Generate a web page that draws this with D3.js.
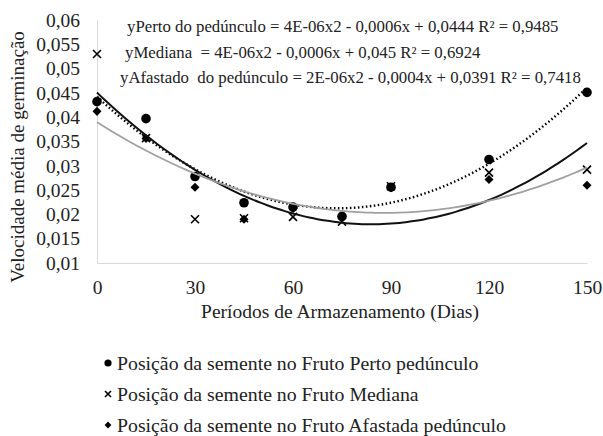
<!DOCTYPE html>
<html>
<head>
<meta charset="utf-8">
<script src="https://cdn.jsdelivr.net/npm/d3@7"></script>
</head>
<body style="margin:0">
<script>
// days of storage
const days = [0, 15, 30, 45, 60, 75, 90, 120, 150];
// germination speed per seed position
const perto    = [0.0432, 0.0397, 0.0278, 0.0224, 0.0215, 0.0196, 0.0256, 0.0313, 0.0451];
const mediana  = [0.0530, 0.0357, 0.0190, 0.0192, 0.0195, 0.0185, 0.0258, 0.0286, 0.0292];
const afastado = [0.0412, 0.0356, 0.0256, 0.0190, 0.0212, 0.0196, 0.0255, 0.0272, 0.0260];

const yTicks = [0.01, 0.015, 0.02, 0.025, 0.03, 0.035, 0.04, 0.045, 0.05, 0.055, 0.06];
const xTicks = [0, 30, 60, 90, 120, 150];

const equations = [
  "yPerto do pedúnculo = 4E-06x2 - 0,0006x + 0,0444 R² = 0,9485",
  "yMediana  = 4E-06x2 - 0,0006x + 0,045 R² = 0,6924",
  "yAfastado  do pedúnculo = 2E-06x2 - 0,0004x + 0,0391 R² = 0,7418"
];
const legendLabels = [
  "Posição da semente no Fruto Perto pedúnculo",
  "Posição da semente no Fruto Mediana",
  "Posição da semente no Fruto Afastada pedúnculo"
];

const FONT = "Liberation Serif";
const width = 603, height = 436;
const svg = d3.select("body").append("svg")
  .attr("width", width)
  .attr("height", height);

const xScale = d3.scaleLinear().domain([0, 150]).range([97, 587]);
const yScale = d3.scaleLinear().domain([0.01, 0.06]).range([263, 20]);

const fmt = d => d3.format(".3~f")(d).replace(".", ",");

// every text goes through here
function txt(sel, size) {
  return sel.style("font-family", `"${FONT}"`).attr("font-size", size).attr("fill", "#222");
}

// axes lines, light grey, no ticks
const xAxis = d3.axisBottom(xScale).tickValues(xTicks).tickSize(0).tickPadding(17);
const yAxis = d3.axisLeft(yScale).tickValues(yTicks).tickSize(0).tickPadding(17).tickFormat(fmt);

svg.append("g")
  .attr("transform", `translate(0,${yScale(0.01)})`)
  .call(xAxis)
  .call(g => g.select(".domain").attr("stroke", "#d9d9d9"))
  .call(g => txt(g.selectAll("text"), 19.5));

svg.append("g")
  .attr("transform", `translate(${xScale(0)},0)`)
  .call(yAxis)
  .call(g => g.select(".domain").attr("stroke", "#d9d9d9"))
  .call(g => txt(g.selectAll("text"), 19.5));

// axis titles
svg.append("text")
  .attr("x", 340).attr("y", 318)
  .attr("text-anchor", "middle")
  .call(txt, 19.5)
  .text("Períodos de Armazenamento (Dias)");

svg.append("text")
  .attr("transform", "translate(24,157) rotate(-90)")
  .attr("text-anchor", "middle")
  .call(txt, 19)
  .text("Velocidade média de germinação");

// quadratic least squares fit
function quadFit(xs, ys) {
  let s = [0, 0, 0, 0, 0], t = [0, 0, 0];
  xs.forEach((x, i) => {
    for (let k = 0; k < 5; k++) s[k] += Math.pow(x, k);
    for (let k = 0; k < 3; k++) t[k] += Math.pow(x, k) * ys[i];
  });
  const A = [[s[0], s[1], s[2], t[0]], [s[1], s[2], s[3], t[1]], [s[2], s[3], s[4], t[2]]];
  for (let i = 0; i < 3; i++) {
    for (let j = i + 1; j < 3; j++) {
      const f = A[j][i] / A[i][i];
      for (let k = i; k < 4; k++) A[j][k] -= f * A[i][k];
    }
  }
  const c = [0, 0, 0];
  for (let i = 2; i >= 0; i--) {
    let v = A[i][3];
    for (let k = i + 1; k < 3; k++) v -= A[i][k] * c[k];
    c[i] = v / A[i][i];
  }
  return x => c[0] + c[1] * x + c[2] * x * x;
}

const series = [
  {vals: perto, stroke: "#000", width: 2.4, dash: "1.5,2.5", shape: "circle"},
  {vals: mediana, stroke: "#111", width: 2, dash: null, shape: "x"},
  {vals: afastado, stroke: "#a0a0a0", width: 1.8, dash: null, shape: "diamond"}
];

const line = d3.line().x(d => xScale(d[0])).y(d => yScale(d[1])).curve(d3.curveBasis);

function drawMarker(g, shape, x, y, s) {
  if (shape === "circle") {
    g.append("circle").attr("cx", x).attr("cy", y).attr("r", 4.8 * s).attr("fill", "#000");
  } else if (shape === "x") {
    const r = 4 * s;
    g.append("path")
      .attr("d", `M${x - r},${y - r}L${x + r},${y + r}M${x - r},${y + r}L${x + r},${y - r}`)
      .attr("stroke", "#000").attr("stroke-width", 1.6);
  } else {
    g.append("path")
      .attr("d", d3.symbol(d3.symbolDiamond2, 52 * s * s)())
      .attr("transform", `translate(${x},${y})`)
      .attr("fill", "#000");
  }
}

// markers
const pts = svg.append("g");
series.forEach(sr => {
  sr.vals.forEach((v, i) => drawMarker(pts, sr.shape, xScale(days[i]), yScale(v), 1));
});

// trend lines
series.forEach(sr => {
  const f = quadFit(days, sr.vals);
  const samples = d3.range(0, 150.01, 2.5).map(x => [x, f(x)]);
  svg.append("path")
    .datum(samples)
    .attr("fill", "none")
    .attr("stroke", sr.stroke)
    .attr("stroke-width", sr.width)
    .attr("stroke-dasharray", sr.dash)
    .attr("d", line);
});

// equations
svg.append("g")
  .selectAll("text")
  .data(equations)
  .join("text")
  .attr("x", (d, i) => [127, 125, 120][i])
  .attr("y", (d, i) => 32 + i * 25.5)
  .call(txt, 16.8)
  .style("white-space", "pre")
  .text(d => d);

// legend
const leg = svg.append("g");
legendLabels.forEach((lab, i) => {
  const y = 363 + i * 31;
  drawMarker(leg, series[i].shape, 108, y, 0.75);
  leg.append("text")
    .attr("x", 117).attr("y", y + 6.5)
    .call(txt, 19.8)
    .text(lab);
});
</script>
</body>
</html>
